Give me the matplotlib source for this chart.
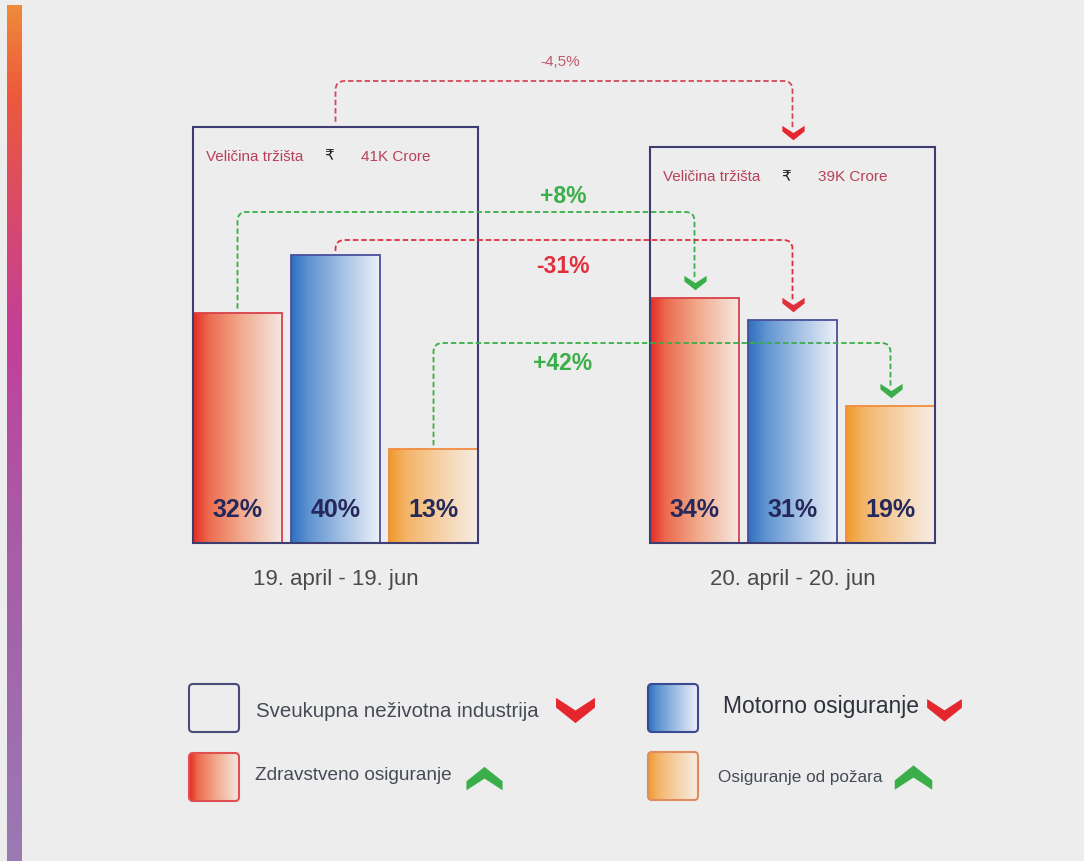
import numpy as np
import matplotlib
matplotlib.use("Agg")
import matplotlib.pyplot as plt
from matplotlib.colors import LinearSegmentedColormap
from matplotlib.patches import Rectangle, FancyBboxPatch, PathPatch
from matplotlib.path import Path

plt.rcParams['font.family'] = ['Liberation Sans', 'DejaVu Sans', 'Noto Sans']

# --- data ---
periods = ["19. april - 19. jun", "20. april - 20. jun"]
share_2019 = [32, 40, 13]          # zdravstveno, motorno, požar (%)
share_2020 = [34, 31, 19]
market_size = [41, 39]             # K Crore
market_change = "-4,5%"
segment_change = ["+8%", "-31%", "+42%"]
legend_labels = ["Sveukupna neživotna industrija", "Motorno osiguranje",
                 "Zdravstveno osiguranje", "Osiguranje od požara"]

# --- layout (pixels) ---
W, H = 1084, 862
BASE = 544          # baseline row of the bars
S = 7.2             # pixels per percent
K_BOX = 1.41        # percent units per K Crore for the market boxes
group_x = [193, 650]
bar_w, gap = 89, 9
box_w = 3 * bar_w + 2 * gap

GREEN = '#3aae48'
RED = '#e0303c'
NAVY = '#3d3d72'


def py(row):
    """Pixel row -> data y of the chart axes."""
    return (BASE - row) / S


def gradient_cmap(colors, nodes):
    return LinearSegmentedColormap.from_list("g", list(zip(nodes, colors)))


bar_cmaps = [
    gradient_cmap(['#e42a22', '#ec6c50', '#f2ab8e', '#f4e8e2'], [0, 0.18, 0.55, 1]),
    gradient_cmap(['#2f6fbf', '#5f94d1', '#a8c3e6', '#edf1f8'], [0, 0.2, 0.6, 1]),
    gradient_cmap(['#f09a2a', '#f3b469', '#f6d3aa', '#f5ede6'], [0, 0.2, 0.6, 1]),
]
bar_edges = ['#d8404a', '#4a4f9a', '#f08c40']
hgrad = np.linspace(0, 1, 256).reshape(1, -1)

down_chev = Path([(-1, 0.6), (0, -0.05), (1, 0.6), (1, 0.1), (0, -0.7),
                  (-1, 0.1), (-1, 0.6)], closed=True)
up_chev = Path([(x, -y) for x, y in down_chev.vertices], closed=True)

fig = plt.figure(figsize=(W / 100, H / 100), dpi=100)
fig.patch.set_facecolor('#ededed')

# pixel-coordinate layer: side strip and legend
lay = fig.add_axes([0, 0, 1, 1], zorder=0)
lay.set_xlim(0, W)
lay.set_ylim(H, 0)
lay.axis('off')

strip = gradient_cmap(['#ef8a3a', '#ee5a3a', '#d94a6a', '#c43f98', '#a95aa6', '#9a7ab2'],
                      [0, 0.1, 0.24, 0.38, 0.6, 1])
lay.imshow(np.linspace(0, 1, 256).reshape(-1, 1), cmap=strip, aspect='auto',
           extent=(7, 22, H, 6), origin='upper')


def legend_box(x, y, cmap, edge):
    box = FancyBboxPatch((x, y), 50, 48, boxstyle="round,pad=0,rounding_size=4",
                         fc='none', ec=edge, lw=1.5, zorder=3)
    lay.add_patch(box)
    if cmap is not None:
        im = lay.imshow(hgrad, cmap=cmap, aspect='auto', extent=(x, x + 50, y + 48, y),
                        zorder=2)
        im.set_clip_path(box)


legend_box(189, 685, None, '#4a4a78')
legend_box(648, 685, bar_cmaps[1], '#3a4a90')
legend_box(189, 754, bar_cmaps[0], '#e05050')
legend_box(648, 753, bar_cmaps[2], '#e08a60')

lay.text(256, 712, legend_labels[0], fontsize=14.7, color='#454a55', va='center')
lay.text(723, 707, legend_labels[1], fontsize=16.5, color='#2e323c', va='center')
lay.text(255, 776, legend_labels[2], fontsize=13.7, color='#454a55', va='center')
lay.text(718, 778, legend_labels[3], fontsize=12.3, color='#454a55', va='center')

lay.plot(575, 710, marker=down_chev, ms=28, color='#e4262e', mec='none')
lay.plot(944, 710, marker=down_chev, ms=25, color='#e4262e', mec='none')
lay.plot(484, 780, marker=up_chev, ms=26, color='#3aae48', mec='none')
lay.plot(913, 779, marker=up_chev, ms=27, color='#3aae48', mec='none')

# chart layer: x in pixels, y in percent
ax = fig.add_axes([0, 0, 1, 1], zorder=1)
ax.patch.set_alpha(0)
ax.axis('off')


def bar_x(g, i):
    return group_x[g] + i * (bar_w + gap)


for g, shares in enumerate([share_2019, share_2020]):
    for i, v in enumerate(shares):
        x0 = bar_x(g, i)
        patch = ax.bar(x0, v, width=bar_w, align='edge', fc='none',
                       ec=bar_edges[i], lw=1.3, zorder=3)[0]
        im = ax.imshow(hgrad, cmap=bar_cmaps[i], aspect='auto',
                       extent=(x0, x0 + bar_w, 0, v), zorder=2)
        im.set_clip_path(patch)
        ax.text(x0 + bar_w / 2, 34 / S, f"{v}%", ha='center', va='center',
                fontsize=18, fontweight='bold', color='#25285a', zorder=6)

    # overall market box
    top = market_size[g] * K_BOX
    ax.add_patch(Rectangle((group_x[g], 0), box_w, top, fill=False, ec=NAVY,
                           lw=1.5, zorder=4))
    ly = top - 29 / S
    ax.text(group_x[g] + 13, ly, "Veličina tržišta", fontsize=11, color='#b8405a',
            va='center', zorder=6)
    ax.text(group_x[g] + 131, ly, "₹", fontsize=11, color='#222222',
            va='center', zorder=6)
    ax.text(group_x[g] + 168, ly, f"{market_size[g]}K Crore", fontsize=11,
            color='#b8405a', va='center', zorder=6)

    ax.text(group_x[g] + box_w / 2, py(579), periods[g], ha='center', va='center',
            fontsize=16, color='#4a4a4a')


def draw_link(x0, y0, x1, y1, level, color, lw=1.3):
    rx, ry = 9, 9 / S
    verts = [(x0, y0), (x0, level - ry), (x0, level), (x0 + rx, level),
             (x1 - rx, level), (x1, level), (x1, level - ry), (x1, y1)]
    codes = [Path.MOVETO, Path.LINETO, Path.CURVE3, Path.CURVE3,
             Path.LINETO, Path.CURVE3, Path.CURVE3, Path.LINETO]
    ax.add_patch(PathPatch(Path(verts, codes), fill=False, ec=color, lw=lw,
                           ls=(0, (3, 1.6)), capstyle='butt', zorder=5))


# total market change
top_l = market_size[0] * K_BOX
top_r = market_size[1] * K_BOX
cx_l = group_x[0] + box_w / 2
cx_r = group_x[1] + box_w / 2
draw_link(cx_l, top_l + 5 / S, cx_r, top_r + 17 / S, py(82), '#d44a5a')
ax.plot(cx_r, top_r + 15 / S, marker=down_chev, ms=16, color='#e4262e', mec='none', zorder=6)
ax.text(560, py(62), market_change, fontsize=11, color='#c05a6a', ha='center', va='center')

# segment changes
link_rows = [213, 241, 344]
label_rows = [196, 266, 364]
for i, change in enumerate(segment_change):
    color = GREEN if change.startswith('+') else RED
    x0 = bar_x(0, i) + bar_w / 2
    x1 = bar_x(1, i) + bar_w / 2
    draw_link(x0, share_2019[i] + 4 / S, x1, share_2020[i] + 18 / S, py(link_rows[i]), color)
    ax.plot(x1, share_2020[i] + 16 / S, marker=down_chev, ms=16, color=color,
            mec='none', zorder=6)
    ax.text(563, py(label_rows[i]), change, fontsize=16.5, fontweight='bold',
            color=color, ha='center', va='center', zorder=6)

ax.set_xlim(0, W)
ax.set_ylim(py(H), py(0))

fig.savefig("out.png", dpi=100, facecolor=fig.get_facecolor())
